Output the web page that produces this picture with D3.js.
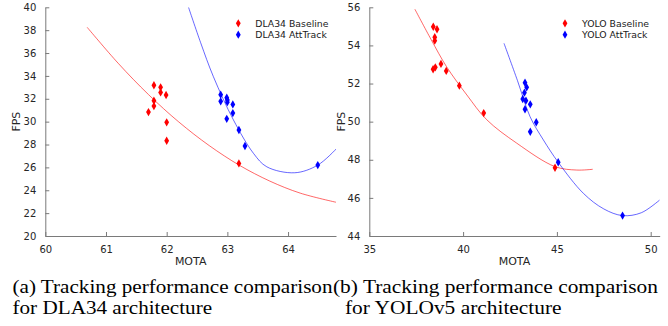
<!DOCTYPE html>
<html><head><meta charset="utf-8">
<script src="https://cdn.jsdelivr.net/npm/d3@7"></script>
<style>body{margin:0;background:#fff}svg{display:block}</style>
</head><body>
<svg id="c" width="668" height="326"></svg>
<script>
// ---- Data ----
// Panel (a): DLA34
const dlaBaseMOTA = [61.79, 61.90, 61.90, 61.99, 61.79, 61.79, 61.70, 62.00, 62.00, 63.19];
const dlaBaseFPS  = [33.18, 33.00, 32.56, 32.33, 31.83, 31.36, 30.84, 29.94, 28.33, 26.35];
const dlaAttMOTA  = [62.89, 62.89, 62.99, 63.00, 63.00, 63.09, 63.09, 62.99, 63.19, 63.29, 64.49];
const dlaAttFPS   = [32.36, 31.78, 32.09, 31.90, 31.70, 31.51, 30.75, 30.25, 29.27, 27.87, 26.20];
// fitted trend curves
const dlaBaseFitMOTA = [60.69, 61.2, 61.7, 62.2, 62.7, 63.2, 63.7, 64.2, 64.8];
const dlaBaseFitFPS  = [38.25, 35.11, 32.37, 29.97, 27.91, 26.18, 24.80, 23.75, 22.94];
const dlaAttFitMOTA  = [62.36, 62.56, 62.77, 63.10, 63.43, 63.65, 64.11, 64.49, 64.80];
const dlaAttFitFPS   = [40.00, 36.90, 33.93, 30.15, 27.23, 26.05, 25.53, 26.20, 27.65];

// Panel (b): YOLOv5
const yoloBaseMOTA = [38.41, 38.61, 38.49, 38.49, 38.40, 38.52, 38.82, 39.10, 39.80, 41.10, 44.90];
const yoloBaseFPS  = [54.98, 54.85, 54.43, 54.25, 52.75, 52.85, 53.03, 52.66, 51.89, 50.45, 47.58];
const yoloAttMOTA  = [43.30, 43.39, 43.27, 43.18, 43.35, 43.30, 43.58, 43.90, 43.58, 45.07, 48.50];
const yoloAttFPS   = [52.04, 51.80, 51.52, 51.19, 51.10, 50.65, 50.91, 49.97, 49.47, 47.87, 45.07];
const yoloBaseFitMOTA = [37.43, 38.30, 39.12, 40.20, 41.26, 42.86, 44.90, 46.06, 46.91];
const yoloBaseFitFPS  = [55.90, 54.30, 52.88, 51.40, 50.10, 48.87, 47.64, 47.46, 47.50];
const yoloAttFitMOTA  = [42.18, 42.90, 43.57, 44.28, 45.07, 46.41, 47.50, 48.50, 49.50, 50.48];
const yoloAttFitFPS   = [54.11, 52.15, 50.26, 49.04, 47.87, 46.24, 45.42, 45.07, 45.22, 45.89];

// Axis ticks
const dlaXTicks  = [60, 61, 62, 63, 64];
const dlaYTicks  = [20, 22, 24, 26, 28, 30, 32, 34, 36, 38, 40];
const yoloXTicks = [35, 40, 45, 50];
const yoloYTicks = [44, 46, 48, 50, 52, 54, 56];

const dlaLegend  = ["DLA34 Baseline", "DLA34 AttTrack"];
const yoloLegend = ["YOLO Baseline", "YOLO AttTrack"];
const captionA = ["(a) Tracking performance comparison", "for DLA34 architecture"];
const captionB = ["(b) Tracking performance comparison", "for YOLOv5 architecture"];

// ---- Drawing ----
const svg = d3.select("#c");
const RED = "#ff0000", BLUE = "#0000ff";
const FONT = "DejaVu Sans, sans-serif";
const zip = (a, b) => a.map((v, i) => [v, b[i]]);

function panel(o) {
  const g = svg.append("g");
  const x = d3.scaleLinear().domain(o.xDom).range([o.left, o.right]);
  const y = d3.scaleLinear().domain(o.yDom).range([o.bottom, o.top]);
  const clipId = "clip" + o.id;
  svg.append("clipPath").attr("id", clipId).append("rect")
    .attr("x", o.left).attr("y", o.top)
    .attr("width", o.right - o.left).attr("height", o.bottom - o.top);

  // axes (inward ticks, no box)
  const ax = g.append("g").attr("transform", `translate(0,${o.bottom})`)
    .call(d3.axisBottom(x).tickValues(o.xTicks).tickSizeInner(-4).tickSizeOuter(0).tickPadding(8).tickFormat(d3.format("d")));
  const ay = g.append("g").attr("transform", `translate(${o.left},0)`)
    .call(d3.axisLeft(y).tickValues(o.yTicks).tickSizeInner(-4).tickSizeOuter(0).tickPadding(9).tickFormat(d3.format("d")));
  [ax, ay].forEach(a => {
    a.select(".domain").attr("stroke", "#7a7a7a").attr("stroke-width", 1);
    a.selectAll(".tick line").attr("stroke", "#7a7a7a");
    a.selectAll(".tick text").attr("fill", "#262626").style("font-family", FONT).style("font-size", "10px");
  });
  ax.selectAll(".tick text").attr("dy", "0.9em");

  // axis labels
  g.append("text").attr("x", (o.left + o.right) / 2).attr("y", 265)
    .attr("text-anchor", "middle").attr("fill", "#262626")
    .style("font-family", FONT).style("font-size", "11px").text("MOTA");
  g.append("text").attr("transform", `translate(${o.ylabX},${(o.top + o.bottom) / 2}) rotate(-90)`)
    .attr("text-anchor", "middle").attr("fill", "#262626")
    .style("font-family", FONT).style("font-size", "11px").text("FPS");

  // fit curves
  const line = d3.line().x(d => x(d[0])).y(d => y(d[1])).curve(d3.curveCatmullRom.alpha(0.5));
  const cg = g.append("g").attr("clip-path", `url(#${clipId})`);
  cg.append("path").attr("d", line(zip(o.baseFitX, o.baseFitY)))
    .attr("fill", "none").attr("stroke", RED).attr("stroke-width", 0.8).attr("stroke-opacity", 0.75);
  cg.append("path").attr("d", line(zip(o.attFitX, o.attFitY)))
    .attr("fill", "none").attr("stroke", BLUE).attr("stroke-width", 0.8).attr("stroke-opacity", 0.75);

  // markers
  const sym = d3.symbol(d3.symbolDiamond, 20);
  g.append("g").selectAll("path").data(zip(o.baseX, o.baseY)).join("path")
    .attr("d", sym).attr("transform", d => `translate(${x(d[0])},${y(d[1])})`).attr("fill", RED);
  g.append("g").selectAll("path").data(zip(o.attX, o.attY)).join("path")
    .attr("d", sym).attr("transform", d => `translate(${x(d[0])},${y(d[1])})`).attr("fill", BLUE);

  // legend
  const lg = g.append("g");
  o.legend.forEach((t, i) => {
    const ly = 23.3 + i * 11.4;
    lg.append("path").attr("d", sym).attr("transform", `translate(${o.legX},${ly})`).attr("fill", i ? BLUE : RED);
    lg.append("text").attr("x", o.legX + 17).attr("y", ly).attr("dy", "0.35em")
      .attr("fill", "#1a1a1a").style("font-family", FONT).style("font-size", "9.3px").text(t);
  });

  // caption: first line stretched to the measured width, second line with the same stretch
  const t1 = svg.append("text").attr("x", o.capX[0]).attr("y", 293)
    .attr("fill", "#000").style("font-family", "Liberation Serif, Times New Roman, serif")
    .style("font-size", "19.5px").text(o.caption[0]);
  const natural = t1.node().getComputedTextLength();
  t1.attr("textLength", o.capW).attr("lengthAdjust", "spacingAndGlyphs");
  const ratio = o.capW / natural;
  const t2 = svg.append("text").attr("x", o.capX[1]).attr("y", 314)
    .attr("fill", "#000").style("font-family", "Liberation Serif, Times New Roman, serif")
    .style("font-size", "19.5px").text(o.caption[1]);
  const n2 = t2.node().getComputedTextLength();
  t2.attr("textLength", n2 * ratio).attr("lengthAdjust", "spacingAndGlyphs");
}

panel({
  id: "a", xDom: [60, 64.79], yDom: [20, 40], left: 45.3, right: 336, top: 7.3, bottom: 236,
  xTicks: dlaXTicks, yTicks: dlaYTicks, ylabX: 20,
  baseX: dlaBaseMOTA, baseY: dlaBaseFPS, attX: dlaAttMOTA, attY: dlaAttFPS,
  baseFitX: dlaBaseFitMOTA, baseFitY: dlaBaseFitFPS, attFitX: dlaAttFitMOTA, attFitY: dlaAttFitFPS,
  legend: dlaLegend, legX: 238.3, caption: captionA, capX: [12.5, 12.5], capW: 320
});
panel({
  id: "b", xDom: [35, 50.48], yDom: [44, 56], left: 369.3, right: 659.7, top: 7.3, bottom: 236,
  xTicks: yoloXTicks, yTicks: yoloYTicks, ylabX: 345,
  baseX: yoloBaseMOTA, baseY: yoloBaseFPS, attX: yoloAttMOTA, attY: yoloAttFPS,
  baseFitX: yoloBaseFitMOTA, baseFitY: yoloBaseFitFPS, attFitX: yoloAttFitMOTA, attFitY: yoloAttFitFPS,
  legend: yoloLegend, legX: 565, caption: captionB, capX: [333, 345], capW: 325
});
</script>
</body></html>
